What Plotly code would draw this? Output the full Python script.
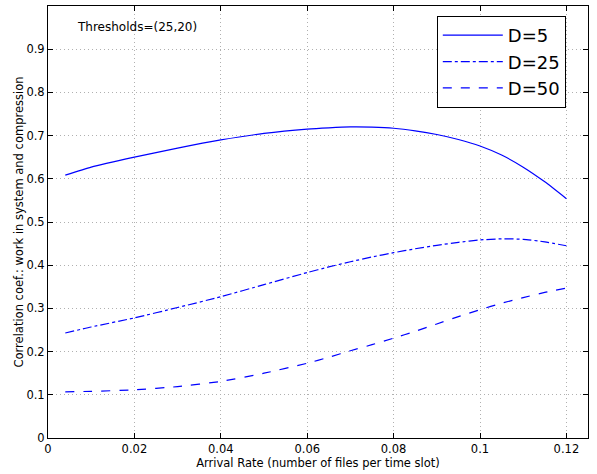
import plotly.graph_objects as go

x_vals = [0.004, 0.01, 0.02, 0.03, 0.04, 0.05, 0.06, 0.065, 0.07, 0.075, 0.08, 0.085, 0.09, 0.095, 0.10, 0.105, 0.11, 0.115, 0.12]
d5 = [0.6085, 0.627, 0.650, 0.671, 0.690, 0.705, 0.715, 0.718, 0.720, 0.7195, 0.717, 0.711, 0.7025, 0.691, 0.676, 0.655, 0.627, 0.593, 0.554]
d25 = [0.243, 0.257, 0.278, 0.302, 0.327, 0.355, 0.383, 0.396, 0.408, 0.419, 0.429, 0.438, 0.446, 0.453, 0.4585, 0.461, 0.460, 0.454, 0.445]
d50 = [0.107, 0.108, 0.1115, 0.119, 0.131, 0.150, 0.173, 0.187, 0.202, 0.216, 0.231, 0.247, 0.264, 0.281, 0.297, 0.312, 0.325, 0.337, 0.347]

series = [("D=5", d5, "solid"), ("D=25", d25, "dashdot"), ("D=50", d50, "dash")]

x_ticks = [0, 0.02, 0.04, 0.06, 0.08, 0.1, 0.12]
x_tick_text = ["0", "0.02", "0.04", "0.06", "0.08", "0.1", "0.12"]
y_ticks = [0, 0.1, 0.2, 0.3, 0.4, 0.5, 0.6, 0.7, 0.8, 0.9, 1]
y_tick_text = ["0", "0.1", "0.2", "0.3", "0.4", "0.5", "0.6", "0.7", "0.8", "0.9", "1"]

fig = go.Figure()
for name, vals, dash in series:
    fig.add_trace(go.Scatter(x=x_vals, y=vals, mode="lines", name=name,
                             line=dict(color="#0000ff", width=1.2, dash=dash, shape="spline", smoothing=0.5)))

font_family = "DejaVu Sans, Liberation Sans, sans-serif"
axis_common = dict(showline=True, linecolor="black", linewidth=1, mirror="ticks",
                   ticks="inside", ticklen=5, tickcolor="black",
                   showgrid=True, gridcolor="#b0b0b0", griddash="1px,3px", gridwidth=1,
                   zeroline=False, tickfont=dict(size=11.5, color="black", family=font_family))

fig.update_xaxes(range=[0, 0.125], tickvals=x_ticks, ticktext=x_tick_text,
                 title=dict(text="Arrival Rate (number of files per time slot)",
                            font=dict(size=11.5, color="black", family=font_family), standoff=2),
                 **axis_common)
fig.update_yaxes(range=[0, 1], tickvals=y_ticks, ticktext=y_tick_text,
                 title=dict(text="Correlation coef.: work in system and compression",
                            font=dict(size=11.5, color="black", family=font_family), standoff=0),
                 **axis_common)

fig.add_annotation(x=0.0062, y=0.952, xref="x", yref="y", text="Thresholds=(25,20)",
                   showarrow=False, xanchor="left", yanchor="middle",
                   font=dict(size=12, color="black", family=font_family))

fig.update_layout(
    width=597, height=474,
    margin=dict(l=48, r=9, t=6, b=36),
    paper_bgcolor="white", plot_bgcolor="white",
    font=dict(family=font_family, color="black"),
    legend=dict(x=0.72, y=0.977, xanchor="left", yanchor="top",
                bgcolor="white", bordercolor="black", borderwidth=1,
                font=dict(size=18, color="black", family=font_family),
                itemwidth=60, tracegroupgap=0),
    showlegend=True,
)

fig.write_html("out.html")
